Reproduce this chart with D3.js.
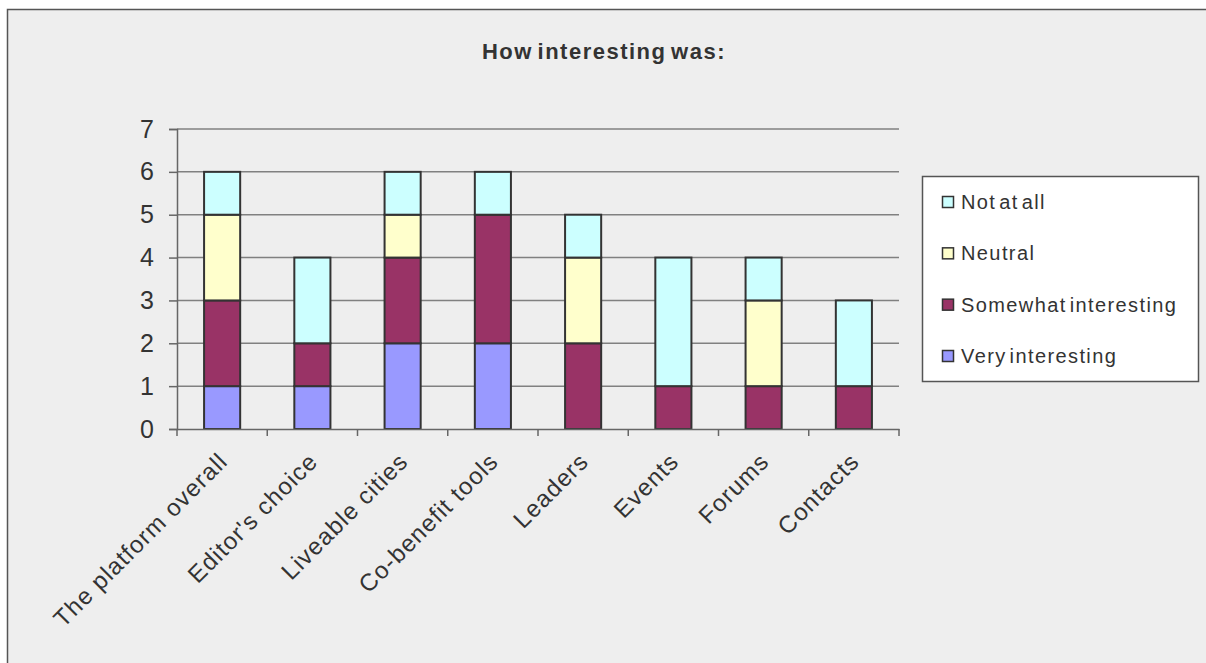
<!DOCTYPE html>
<html>
<head>
<meta charset="utf-8">
<script src="https://cdn.jsdelivr.net/npm/d3@7"></script>
<style>
  body { margin: 0; background: #fff; overflow: hidden; }
  svg { display: block; }
  text { font-family: Arial, "Liberation Sans", sans-serif; fill: #333; }
</style>
</head>
<body>
<script>
// chart values
var categories = ["The platform overall", "Editor's choice", "Liveable cities", "Co-benefit tools",
                  "Leaders", "Events", "Forums", "Contacts"];
var series = ["Very interesting", "Somewhat interesting", "Neutral", "Not at all"];
var very_interesting = [1, 1, 2, 2, 0, 0, 0, 0];
var somewhat_interesting = [2, 1, 2, 3, 2, 1, 1, 1];
var neutral = [2, 0, 1, 0, 2, 0, 2, 0];
var not_at_all = [1, 2, 1, 1, 1, 3, 1, 2];
var y_ticks = [0, 1, 2, 3, 4, 5, 6, 7];
var colors = ["#9999ff", "#993366", "#ffffcc", "#ccffff"];

var W = 1206, H = 663;
var plot = {left: 177, right: 899, top: 129, bottom: 429};

var svg = d3.select("body").append("svg")
            .attr("width", W).attr("height", H);

// grey chart area; only its top and left edges are inside the picture
svg.append("rect")
   .attr("x", 7.5).attr("y", 9.5).attr("width", W).attr("height", H)
   .style("fill", "#eeeeee");
svg.append("path")
   .attr("d", "M7.5," + H + "V9.5H" + W)
   .style("fill", "none").style("stroke", "#555").style("stroke-width", 1.5);

var x = d3.scaleBand().domain(categories).range([plot.left, plot.right]).paddingInner(0).paddingOuter(0);
var y = d3.scaleLinear().domain([0, 7]).range([plot.bottom, plot.top]);

// table for the stack
var table = categories.map(function(c, i) {
  return {cat: c, "Very interesting": very_interesting[i], "Somewhat interesting": somewhat_interesting[i],
          "Neutral": neutral[i], "Not at all": not_at_all[i]};
});
var stacked = d3.stack().keys(series)(table);

// gridlines
svg.append("g").selectAll("line").data(y_ticks.slice(1)).join("line")
   .attr("x1", plot.left).attr("x2", plot.right)
   .attr("y1", function(d){ return y(d); }).attr("y2", function(d){ return y(d); })
   .style("stroke", "#808080").style("stroke-width", 1.5);

// y axis
var yAxis = svg.append("g").attr("transform", "translate(" + plot.left + ",0)")
   .call(d3.axisLeft(y).tickValues(y_ticks).tickSize(8).tickPadding(15).tickFormat(d3.format("d")));
yAxis.select(".domain").style("stroke", "#666").style("stroke-width", 1.5);
yAxis.selectAll(".tick line").style("stroke", "#666").style("stroke-width", 1.5);
yAxis.selectAll("text").attr("font-family", null).attr("font-size", null)
     .style("font-size", "25px").style("fill", "#333");

// bars
var barW = x.bandwidth() * 0.4;
svg.append("g").selectAll("g").data(stacked).join("g")
   .style("fill", function(d, i){ return colors[i]; })
   .selectAll("rect").data(function(d){ return d.filter(function(s){ return s[1] > s[0]; }); }).join("rect")
   .attr("x", function(d){ return x(d.data.cat) + (x.bandwidth() - barW) / 2; })
   .attr("y", function(d){ return y(d[1]); })
   .attr("width", barW)
   .attr("height", function(d){ return y(d[0]) - y(d[1]); })
   .style("stroke", "#333").style("stroke-width", 2);

// x axis
var xAxis = svg.append("g").attr("transform", "translate(0," + plot.bottom + ")")
   .call(d3.axisBottom(x).tickSize(0).tickFormat(""));
xAxis.select(".domain").style("stroke", "#666").style("stroke-width", 1.5);
// ticks between categories
var edges = categories.map(function(c){ return x(c); }).concat([plot.right]);
svg.append("g").selectAll("line").data(edges).join("line")
   .attr("x1", function(d){ return d; }).attr("x2", function(d){ return d; })
   .attr("y1", plot.bottom).attr("y2", plot.bottom + 7)
   .style("stroke", "#666").style("stroke-width", 1.5);

// rotated category labels
svg.append("g").selectAll("text").data(categories).join("text")
   .attr("transform", function(d){
     return "translate(" + (x(d) + x.bandwidth() / 2 + 1) + "," + (plot.bottom + 28) + ") rotate(-45)";
   })
   .attr("text-anchor", "end")
   .attr("dy", "0.35em")
   .style("font-size", "24px").style("letter-spacing", "1.1px")
   .text(function(d){ return d; });

// title
svg.append("text")
   .attr("x", 604).attr("y", 59)
   .attr("text-anchor", "middle")
   .style("font-size", "22px").style("font-weight", "bold")
   .style("letter-spacing", "1.5px").style("word-spacing", "-3px")
   .text("How interesting was:");

// legend
var legend = svg.append("g");
legend.append("rect")
   .attr("x", 922.5).attr("y", 176.5).attr("width", 276).attr("height", 205)
   .style("fill", "#fff").style("stroke", "#555").style("stroke-width", 1.5);

var legendItems = series.slice().reverse();
var legendColors = colors.slice().reverse();
var rowY = d3.scalePoint().domain(legendItems).range([202, 356]);
var item = legend.selectAll("g.item").data(legendItems).join("g").attr("class", "item")
   .attr("transform", function(d){ return "translate(942," + rowY(d) + ")"; });
item.append("rect")
   .attr("x", 0.5).attr("y", -5.5).attr("width", 11).attr("height", 11)
   .style("fill", function(d, i){ return legendColors[i]; })
   .style("stroke", "#333").style("stroke-width", 1.5);
item.append("text")
   .attr("x", 19).attr("dy", "0.35em")
   .style("font-size", "20px").style("letter-spacing", "1.4px").style("word-spacing", "-4px")
   .text(function(d){ return d; });
</script>
</body>
</html>
